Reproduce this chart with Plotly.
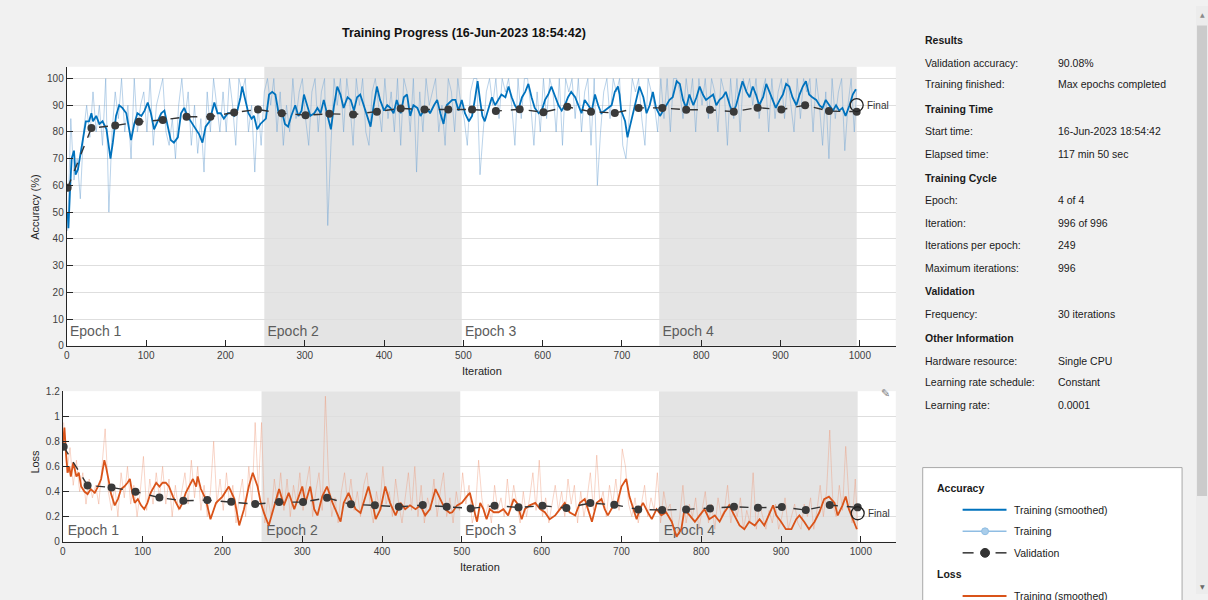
import plotly.graph_objects as go

W, H = 1208, 600

# ---------------- data ----------------
# smoothed mini-batch accuracy (%), (iteration, value)
acc_smooth_pts = [
    (1, 50), (2, 44), (4, 58), (6, 70), (9, 73), (11, 64), (14, 66), (18, 73), (20, 76), (24, 84),
    (28, 84), (31, 87), (33, 84), (37, 86), (41, 83), (45, 84), (50, 81), (53, 73), (55, 70), (58, 76),
    (62, 86), (66, 90), (70, 89), (75, 87), (79, 81), (81, 77), (85, 83), (89, 87), (94, 86), (98, 88),
    (102, 91), (106, 87), (110, 81), (115, 84), (119, 87), (123, 88), (127, 83), (131, 77), (135, 76), (140, 78),
    (144, 87), (148, 89), (152, 86), (156, 84), (161, 82), (167, 79), (171, 76), (175, 82), (180, 84), (186, 91),
    (190, 87), (194, 87), (198, 85), (203, 87), (207, 87), (211, 86), (215, 88), (219, 93), (221, 97), (225, 92),
    (229, 87), (233, 85), (236, 86), (240, 81), (244, 83), (251, 85), (255, 94), (259, 95), (263, 94), (267, 87),
    (271, 88), (275, 83), (279, 82), (283, 86), (288, 90), (292, 86), (296, 88), (299, 94), (303, 90), (307, 86),
    (312, 87), (316, 89), (320, 87), (324, 92), (328, 87), (333, 81), (337, 90), (341, 97), (345, 94), (349, 89),
    (354, 93), (358, 92), (362, 88), (366, 93), (370, 94), (374, 90), (379, 86), (383, 82), (387, 90), (391, 97),
    (395, 92), (400, 88), (404, 90), (408, 89), (412, 87), (416, 92), (421, 87), (425, 93), (429, 94), (433, 86),
    (437, 90), (442, 89), (446, 86), (450, 88), (454, 89), (458, 87), (463, 90), (467, 92), (471, 87), (475, 83),
    (479, 90), (486, 92), (490, 92), (494, 88), (498, 92), (502, 87), (507, 84), (511, 86), (515, 93), (518, 99),
    (521, 92), (524, 86), (527, 84), (532, 89), (536, 93), (540, 90), (544, 92), (548, 94), (553, 93), (557, 97),
    (561, 93), (565, 90), (569, 88), (574, 93), (578, 95), (582, 98), (586, 93), (590, 89), (595, 87), (599, 88),
    (603, 92), (607, 94), (611, 97), (616, 93), (620, 90), (624, 88), (628, 90), (632, 93), (636, 95), (641, 93),
    (645, 90), (649, 87), (653, 92), (657, 90), (662, 88), (666, 94), (670, 90), (674, 87), (678, 88), (683, 89),
    (687, 90), (691, 95), (695, 97), (697, 94), (699, 88), (704, 84), (707, 78), (710, 82), (714, 87), (718, 92),
    (722, 97), (727, 93), (731, 87), (735, 90), (739, 95), (743, 89), (748, 86), (752, 88), (756, 90), (760, 92),
    (764, 93), (769, 99), (773, 98), (777, 92), (781, 89), (785, 94), (790, 90), (794, 93), (798, 97), (802, 94),
    (806, 92), (811, 93), (815, 94), (819, 90), (823, 92), (827, 93), (831, 95), (836, 90), (840, 87), (844, 90),
    (848, 95), (852, 99), (857, 95), (861, 93), (865, 97), (869, 94), (873, 90), (878, 93), (882, 98), (886, 95),
    (890, 92), (894, 89), (899, 92), (903, 94), (907, 98), (911, 97), (915, 93), (920, 90), (924, 94), (928, 97),
    (932, 99), (936, 94), (940, 93), (945, 92), (949, 90), (953, 89), (957, 92), (961, 90), (966, 88), (970, 90),
    (974, 88), (978, 89), (982, 86), (987, 90), (991, 94), (995, 96),
]

# raw mini-batch accuracy (%), every 4th iteration from 1 to 993, then 996
raw_iter = list(range(1, 994, 4)) + [996]
raw_acc = [
    43, 85, 62, 70, 55, 80, 90, 78, 95, 80,
    90, 75, 100, 50, 80, 95, 85, 100, 80, 90,
    70, 100, 80, 90, 95, 80, 100, 75, 90, 95,
    100, 80, 75, 85, 70, 90, 100, 85, 95, 75,
    90, 72, 85, 65, 95, 80, 100, 90, 80, 95,
    80, 100, 90, 75, 100, 95, 100, 80, 90, 65,
    90, 75, 95, 100, 90, 100, 80, 95, 75, 90,
    80, 100, 85, 95, 100, 85, 75, 95, 100, 80,
    95, 100, 45, 75, 100, 90, 100, 80, 100, 90,
    75, 100, 90, 100, 80, 75, 95, 100, 90, 80,
    100, 85, 95, 80, 100, 75, 100, 95, 80, 100,
    65, 95, 80, 100, 90, 95, 100, 80, 90, 75,
    100, 95, 80, 100, 90, 85, 75, 95, 100, 100,
    64, 80, 95, 100, 90, 100, 85, 100, 95, 100,
    90, 75, 100, 85, 100, 100, 90, 75, 95, 80,
    100, 85, 100, 95, 80, 100, 75, 100, 95, 100,
    85, 100, 80, 95, 100, 75, 100, 60, 80, 95,
    100, 85, 100, 95, 100, 75, 70, 85, 100, 95,
    100, 85, 75, 100, 95, 90, 80, 100, 85, 100,
    80, 100, 100, 95, 85, 100, 90, 100, 80, 100,
    90, 100, 85, 100, 95, 80, 100, 95, 75, 100,
    85, 100, 80, 100, 95, 100, 90, 100, 85, 95,
    100, 80, 100, 85, 95, 100, 85, 100, 90, 80,
    100, 85, 100, 95, 100, 80, 100, 90, 75, 95,
    70, 100, 85, 95, 100, 73, 90, 100, 80,
    96,
]

# validation every 30 iterations plus the final network
val_iter = list(range(1, 991, 30)) + [996]
val_acc = [59.1, 81.5, 82.4, 83.8, 84.5, 85.7, 85.7, 87.3, 88.4, 87.0,
           86.3, 86.8, 86.5, 87.6, 88.8, 88.4, 88.4, 88.4, 87.8, 88.5,
           87.4, 89.4, 87.6, 87.1, 89.0, 89.0, 88.3, 88.3, 87.6, 89.1,
           88.4, 90.0, 87.8, 87.6, 90.08]

# smoothed mini-batch loss, (iteration, value)
loss_smooth_pts = [
    (0, 0.78), (2, 0.91), (4, 0.70), (6, 0.55), (8, 0.60), (10, 0.52), (13, 0.63), (17, 0.52), (20, 0.55), (23, 0.44),
    (27, 0.40), (31, 0.38), (35, 0.42), (40, 0.39), (44, 0.44), (48, 0.50), (52, 0.65), (54, 0.60), (58, 0.47), (60, 0.39),
    (65, 0.29), (69, 0.34), (73, 0.42), (77, 0.44), (81, 0.47), (84, 0.50), (87, 0.39), (90, 0.31), (94, 0.34), (98, 0.29),
    (102, 0.26), (106, 0.31), (110, 0.39), (117, 0.47), (121, 0.44), (125, 0.47), (129, 0.47), (133, 0.44), (138, 0.36), (142, 0.31),
    (146, 0.26), (150, 0.31), (154, 0.39), (158, 0.44), (163, 0.50), (167, 0.44), (169, 0.52), (173, 0.42), (179, 0.34), (185, 0.18),
    (192, 0.31), (200, 0.36), (208, 0.44), (215, 0.34), (221, 0.13), (227, 0.26), (233, 0.44), (238, 0.55), (244, 0.44), (248, 0.31),
    (252, 0.23), (258, 0.13), (265, 0.29), (271, 0.42), (277, 0.29), (283, 0.39), (290, 0.26), (296, 0.36), (300, 0.44), (304, 0.31),
    (310, 0.44), (315, 0.26), (319, 0.21), (325, 0.36), (331, 0.44), (338, 0.31), (344, 0.21), (348, 0.16), (352, 0.31), (358, 0.39),
    (363, 0.31), (367, 0.26), (373, 0.23), (377, 0.31), (383, 0.44), (388, 0.31), (392, 0.18), (398, 0.26), (404, 0.44), (410, 0.31),
    (417, 0.21), (423, 0.31), (429, 0.26), (435, 0.29), (442, 0.26), (448, 0.29), (454, 0.21), (460, 0.26), (467, 0.42), (473, 0.34),
    (479, 0.26), (485, 0.23), (488, 0.235), (494, 0.29), (500, 0.31), (506, 0.36), (510, 0.39), (515, 0.26), (519, 0.16), (523, 0.31),
    (527, 0.26), (531, 0.18), (535, 0.26), (540, 0.235), (546, 0.235), (552, 0.26), (558, 0.21), (565, 0.34), (569, 0.31), (575, 0.18),
    (579, 0.26), (585, 0.29), (592, 0.31), (598, 0.26), (604, 0.235), (610, 0.18), (617, 0.21), (623, 0.26), (629, 0.31), (635, 0.235),
    (642, 0.21), (648, 0.31), (654, 0.34), (658, 0.26), (663, 0.16), (669, 0.31), (675, 0.34), (679, 0.26), (683, 0.21), (690, 0.29),
    (694, 0.29), (700, 0.44), (706, 0.50), (710, 0.36), (715, 0.26), (719, 0.18), (723, 0.26), (727, 0.31), (733, 0.235), (738, 0.18),
    (744, 0.26), (750, 0.21), (756, 0.235), (763, 0.16), (769, 0.04), (775, 0.10), (779, 0.26), (785, 0.21), (792, 0.16), (798, 0.21),
    (804, 0.26), (810, 0.18), (817, 0.21), (823, 0.16), (829, 0.235), (835, 0.29), (842, 0.21), (848, 0.13), (854, 0.10), (860, 0.16),
    (867, 0.13), (873, 0.18), (879, 0.13), (885, 0.21), (890, 0.29), (894, 0.21), (900, 0.16), (906, 0.10), (913, 0.10), (919, 0.18),
    (923, 0.21), (929, 0.16), (935, 0.10), (942, 0.16), (948, 0.235), (954, 0.34), (960, 0.36), (967, 0.31), (971, 0.21), (977, 0.29),
    (981, 0.36), (985, 0.26), (990, 0.18), (995, 0.10),
]

# raw mini-batch loss at the same iterations as raw_acc
raw_loss = [
    0.95, 0.55, 0.75, 0.45, 0.65, 0.40, 0.55, 0.30, 0.50, 0.35,
    0.45, 0.30, 0.60, 0.90, 0.40, 0.25, 0.45, 0.20, 0.55, 0.35,
    0.60, 0.30, 0.45, 0.20, 0.40, 0.68, 0.25, 0.50, 0.30, 0.55,
    0.35, 0.60, 0.30, 0.50, 0.20, 0.45, 0.25, 0.40, 0.55, 0.30,
    0.65, 0.35, 0.60, 0.25, 0.45, 0.20, 0.40, 0.80, 0.30, 0.50,
    0.25, 0.55, 0.30, 0.45, 0.15, 0.35, 0.50, 0.20, 0.60, 0.30,
    0.95, 0.40, 0.95, 0.15, 0.35, 0.20, 0.50, 0.30, 0.55, 0.25,
    0.50, 0.20, 0.45, 0.30, 0.55, 0.25, 0.45, 0.60, 0.20, 0.40,
    0.55, 0.25, 1.16, 0.50, 0.20, 0.35, 0.15, 0.40, 0.55, 0.30,
    0.50, 0.25, 0.40, 0.20, 0.45, 0.55, 0.30, 0.15, 0.40, 0.25,
    0.60, 0.30, 0.40, 0.20, 0.50, 0.30, 0.15, 0.35, 0.55, 0.25,
    0.60, 0.20, 0.45, 0.15, 0.35, 0.25, 0.50, 0.20, 0.40, 0.55,
    0.20, 0.35, 0.15, 0.40, 0.25, 0.55, 0.30, 0.45, 0.15, 0.25,
    0.65, 0.35, 0.20, 0.30, 0.15, 0.45, 0.25, 0.35, 0.20, 0.50,
    0.25, 0.45, 0.30, 0.15, 0.40, 0.20, 0.35, 0.55, 0.25, 0.65,
    0.20, 0.35, 0.15, 0.30, 0.45, 0.25, 0.40, 0.20, 0.50, 0.30,
    0.45, 0.15, 0.40, 0.20, 0.35, 0.55, 0.25, 0.69, 0.30, 0.40,
    0.20, 0.45, 0.30, 0.50, 0.25, 0.74, 0.60, 0.30, 0.20, 0.35,
    0.15, 0.30, 0.45, 0.20, 0.35, 0.25, 0.55, 0.15, 0.40, 0.25,
    0.30, 0.10, 0.05, 0.20, 0.45, 0.15, 0.30, 0.20, 0.35, 0.10,
    0.25, 0.40, 0.15, 0.30, 0.10, 0.35, 0.20, 0.25, 0.45, 0.15,
    0.30, 0.20, 0.35, 0.10, 0.25, 0.15, 0.55, 0.10, 0.30, 0.20,
    0.10, 0.25, 0.15, 0.30, 0.10, 0.20, 0.35, 0.10, 0.20, 0.30,
    0.15, 0.10, 0.30, 0.20, 0.35, 0.10, 0.25, 0.45, 0.20, 0.40,
    0.89, 0.30, 0.20, 0.45, 0.25, 0.76, 0.35, 0.15, 0.50,
    0.10,
]

val_loss = [0.757, 0.449, 0.433, 0.399, 0.352, 0.326, 0.332, 0.318, 0.300, 0.316,
            0.316, 0.350, 0.298, 0.290, 0.279, 0.292, 0.279, 0.266, 0.287, 0.274,
            0.287, 0.269, 0.308, 0.295, 0.258, 0.253, 0.258, 0.266, 0.279, 0.271,
            0.277, 0.253, 0.292, 0.274, 0.227]

epoch_starts = [0, 249, 498, 747]
epoch_names = ["Epoch 1", "Epoch 2", "Epoch 3", "Epoch 4"]
iter_ticks = list(range(0, 1001, 100))
acc_ticks = list(range(0, 101, 10))
loss_ticks = [0, 0.2, 0.4, 0.6, 0.8, 1, 1.2]

info_rows = [
    ("Results", None, True),
    ("Validation accuracy:", "90.08%", False),
    ("Training finished:", "Max epochs completed", False),
    ("Training Time", None, True),
    ("Start time:", "16-Jun-2023 18:54:42", False),
    ("Elapsed time:", "117 min 50 sec", False),
    ("Training Cycle", None, True),
    ("Epoch:", "4 of 4", False),
    ("Iteration:", "996 of 996", False),
    ("Iterations per epoch:", "249", False),
    ("Maximum iterations:", "996", False),
    ("Validation", None, True),
    ("Frequency:", "30 iterations", False),
    ("Other Information", None, True),
    ("Hardware resource:", "Single CPU", False),
    ("Learning rate schedule:", "Constant", False),
    ("Learning rate:", "0.0001", False),
]
info_y = [35, 58, 80, 105, 128, 151, 175, 198, 221, 244, 267, 291, 314, 339, 362, 384, 407]

# ---------------- styling ----------------
FONT = "Liberation Sans, Arial, sans-serif"
BLUE = "#0072BD"
BLUE_RAW = "rgba(118,168,214,0.5)"
ORANGE = "#D95319"
ORANGE_RAW = "rgba(238,150,118,0.4)"
VAL = "#333333"
AXC = "#262626"
TXT = "#262626"


def fx(p):
    return p / W


def fy(p):
    return 1 - p / H


def label(text, xp, yp, size=10.5, color="#1a1a1a", xanchor="left", **kw):
    return dict(text=text, x=fx(xp), y=fy(yp), xref="paper", yref="paper",
                xanchor=xanchor, yanchor="middle", showarrow=False,
                font=dict(family=kw.pop("family", FONT), size=size, color=color), **kw)


acc_it = [p[0] for p in acc_smooth_pts]
acc_sm = [p[1] for p in acc_smooth_pts]
loss_it = [p[0] for p in loss_smooth_pts]
loss_sm = [p[1] for p in loss_smooth_pts]
n_epochs = len(epoch_starts)
epoch_ends = epoch_starts[1:] + [996]

fig = go.Figure()

# epoch labels drawn first so the curves pass over them
fig.add_trace(go.Scatter(
    x=[s + 4 for s in epoch_starts], y=[5.0] * n_epochs, text=epoch_names,
    mode="text", textposition="middle right",
    textfont=dict(family=FONT, size=14, color="#5c5c5c"),
    xaxis="x", yaxis="y", hoverinfo="skip"))
fig.add_trace(go.Scatter(
    x=[s + 6 for s in epoch_starts], y=[0.085] * n_epochs, text=epoch_names,
    mode="text", textposition="middle right",
    textfont=dict(family=FONT, size=14, color="#5c5c5c"),
    xaxis="x2", yaxis="y2", hoverinfo="skip"))

# accuracy panel
fig.add_trace(go.Scatter(x=raw_iter, y=raw_acc, mode="lines",
                         line=dict(color=BLUE_RAW, width=1), xaxis="x", yaxis="y"))
fig.add_trace(go.Scatter(x=acc_it, y=acc_sm, mode="lines",
                         line=dict(color=BLUE, width=1.8), xaxis="x", yaxis="y"))
fig.add_trace(go.Scatter(x=val_iter, y=val_acc, mode="lines+markers",
                         line=dict(color=VAL, width=1.4, dash="dash"),
                         marker=dict(color="#3a3a3a", size=8), xaxis="x", yaxis="y"))
fig.add_trace(go.Scatter(x=[val_iter[-1]], y=[val_acc[-1]], mode="markers",
                         marker=dict(symbol="circle-open", size=13, color="#222222",
                                     line=dict(color="#222222", width=1.3)),
                         xaxis="x", yaxis="y"))

# loss panel
fig.add_trace(go.Scatter(x=raw_iter, y=raw_loss, mode="lines",
                         line=dict(color=ORANGE_RAW, width=1), xaxis="x2", yaxis="y2"))
fig.add_trace(go.Scatter(x=loss_it, y=loss_sm, mode="lines",
                         line=dict(color=ORANGE, width=1.8), xaxis="x2", yaxis="y2"))
fig.add_trace(go.Scatter(x=val_iter, y=val_loss, mode="lines+markers",
                         line=dict(color=VAL, width=1.4, dash="dash"),
                         marker=dict(color="#3a3a3a", size=8), xaxis="x2", yaxis="y2"))
fig.add_trace(go.Scatter(x=[val_iter[-1]], y=[val_loss[-1]], mode="markers",
                         marker=dict(symbol="circle-open", size=13, color="#222222",
                                     line=dict(color="#222222", width=1.3)),
                         xaxis="x2", yaxis="y2"))

shapes = []
# shaded even epochs
for k in (1, 3):
    for xr, yr in (("x", "y domain"), ("x2", "y2 domain")):
        shapes.append(dict(type="rect", xref=xr, yref=yr,
                           x0=epoch_starts[k], x1=epoch_ends[k], y0=0, y1=1,
                           fillcolor="#e4e4e4", line=dict(width=0), layer="below"))

# legend box on the right panel
shapes.append(dict(type="rect", xref="paper", yref="paper",
                   x0=fx(922), x1=fx(1182), y0=fy(640), y1=fy(471),
                   fillcolor="white", line=dict(color="#a9a9a9", width=1), layer="below"))
shapes.append(dict(type="line", xref="paper", yref="paper", x0=fx(962), x1=fx(1006),
                   y0=fy(514), y1=fy(514), line=dict(color=BLUE, width=2)))
shapes.append(dict(type="line", xref="paper", yref="paper", x0=fx(962), x1=fx(1006),
                   y0=fy(536), y1=fy(536), line=dict(color="#8fbde3", width=1.5)))
shapes.append(dict(type="circle", xref="paper", yref="paper", x0=fx(981), x1=fx(988),
                   y0=fy(539.5), y1=fy(532.5), fillcolor="#a9cdea", line=dict(color="#8fbde3", width=1)))
for a, b in ((962, 973), (995, 1006)):
    shapes.append(dict(type="line", xref="paper", yref="paper", x0=fx(a), x1=fx(b),
                       y0=fy(558), y1=fy(558), line=dict(color=VAL, width=1.5)))
shapes.append(dict(type="circle", xref="paper", yref="paper", x0=fx(980), x1=fx(989),
                   y0=fy(562.5), y1=fy(553.5), fillcolor="#333333", line=dict(color="#333333", width=1)))
shapes.append(dict(type="line", xref="paper", yref="paper", x0=fx(962), x1=fx(1006),
                   y0=fy(602), y1=fy(602), line=dict(color=ORANGE, width=2)))

# scrollbar
shapes.append(dict(type="rect", xref="paper", yref="paper", x0=fx(1196), x1=1,
                   y0=0, y1=1, fillcolor="#ececec", line=dict(width=0), layer="below"))
shapes.append(dict(type="rect", xref="paper", yref="paper", x0=fx(1197), x1=fx(1207),
                   y0=fy(500), y1=fy(20), fillcolor="#cbcbcb", line=dict(width=0), layer="below"))

ann = []
ann.append(label("<b>Training Progress (16-Jun-2023 18:54:42)</b>", 462, 28, size=12.5,
                 color="#111111", xanchor="center"))
ann.append(label("Accuracy (%)", 32, 205, size=11, color=TXT, xanchor="center", textangle=-90))
ann.append(label("Loss", 32, 465, size=11, color=TXT, xanchor="center", textangle=-90))
ann.append(label("Iteration", 480, 372, size=11, color=TXT, xanchor="center"))
ann.append(label("Iteration", 478, 572, size=11, color=TXT, xanchor="center"))
ann.append(dict(text="Final", x=1006, y=val_acc[-1], xref="x", yref="y", xanchor="left",
                yanchor="middle", showarrow=False,
                font=dict(family=FONT, size=10, color="#333333")))
ann.append(dict(text="Final", x=1006, y=val_loss[-1], xref="x2", yref="y2", xanchor="left",
                yanchor="middle", showarrow=False,
                font=dict(family=FONT, size=10, color="#333333")))
ann.append(label("✎", 885, 395, size=11, color="#808080", xanchor="center", family="DejaVu Sans"))

for (name, value, bold), yp in zip(info_rows, info_y):
    ann.append(label(f"<b>{name}</b>" if bold else name, 922, yp))
    if value is not None:
        ann.append(label(value, 1056, yp))

legend_rows = [("<b>Accuracy</b>", 934, 492), ("Training (smoothed)", 1012, 514),
               ("Training", 1012, 536), ("Validation", 1012, 558),
               ("<b>Loss</b>", 934, 580), ("Training (smoothed)", 1012, 602)]
for t, xp, yp in legend_rows:
    ann.append(label(t, xp, yp))
ann.append(label("▲", 1202, 9, size=6, color="#8a8a8a", xanchor="center", family="DejaVu Sans"))
ann.append(label("▼", 1202, 592, size=6, color="#6a6a6a", xanchor="center", family="DejaVu Sans"))

xcommon = dict(showline=True, linecolor=AXC, linewidth=1.2, ticks="inside", ticklen=6,
               tickcolor=AXC, tickwidth=1, tickvals=iter_ticks, showgrid=False,
               zeroline=False, tickfont=dict(family=FONT, size=10, color="#404040"))
ycommon = dict(showline=True, linecolor=AXC, linewidth=1.2, ticks="inside", ticklen=6,
               tickcolor=AXC, tickwidth=1, showgrid=True, gridcolor="#dedede", gridwidth=1,
               zeroline=False, tickfont=dict(family=FONT, size=10, color="#404040"))

fig.update_layout(
    width=W, height=H, autosize=False,
    margin=dict(l=0, r=0, t=0, b=0),
    paper_bgcolor="#f1f1f1", plot_bgcolor="white",
    showlegend=False, hovermode=False,
    xaxis=dict(domain=[fx(64), fx(895)], range=[0, 1045.3], anchor="y", **xcommon),
    yaxis=dict(domain=[fy(346.7), fy(62)], range=[0, 104.4], anchor="x",
               tickvals=acc_ticks, **ycommon),
    xaxis2=dict(domain=[fx(60), fx(895)], range=[0, 1043.75], anchor="y2", **xcommon),
    yaxis2=dict(domain=[fy(546.7), fy(393)], range=[0, 1.2], anchor="x2",
                tickvals=loss_ticks, **ycommon),
    shapes=shapes, annotations=ann,
)

fig.write_html("out.html", config={"displayModeBar": False})
